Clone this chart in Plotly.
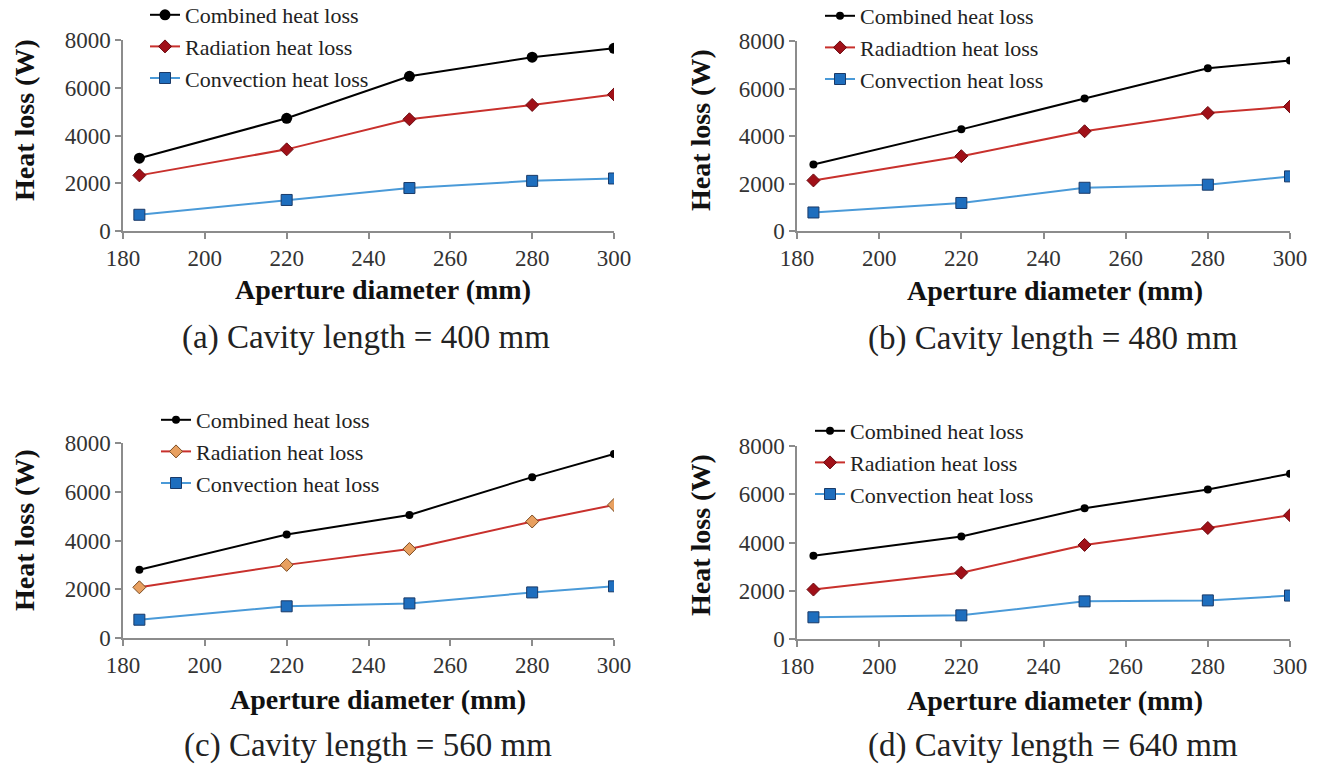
import plotly.graph_objects as go

diameters = [184, 220, 250, 280, 300]

combined_a = [3050, 4720, 6480, 7280, 7650]
radiation_a = [2330, 3420, 4680, 5280, 5720]
convection_a = [680, 1300, 1800, 2100, 2200]

combined_b = [2800, 4280, 5580, 6850, 7180]
radiation_b = [2130, 3150, 4200, 4970, 5240]
convection_b = [780, 1180, 1820, 1950, 2300]

combined_c = [2800, 4250, 5050, 6600, 7550]
radiation_c = [2080, 3000, 3650, 4780, 5460]
convection_c = [750, 1300, 1420, 1870, 2120]

combined_d = [3450, 4250, 5420, 6200, 6850]
radiation_d = [2050, 2750, 3900, 4600, 5130]
convection_d = [900, 980, 1560, 1600, 1800]

captions = ["(a) Cavity length = 400 mm", "(b) Cavity length = 480 mm",
            "(c) Cavity length = 560 mm", "(d) Cavity length = 640 mm"]
rad_names = ["Radiation heat loss", "Radiadtion heat loss",
             "Radiation heat loss", "Radiation heat loss"]

W, H = 1320, 765
FONT = "Liberation Serif"

# panel pixel boxes: (x0, x1, ytop, ybottom)
boxes = [(123, 614, 40, 231), (797, 1290, 41, 231),
         (123, 614, 443, 638), (797, 1290, 446, 639)]
legend_pos = [(145, -6), (820, -5), (156, 399), (810, 410)]
xtitle_pos = [(383, 289), (1055, 290), (378, 699), (1055, 700)]
ytitle_pos = [(24, 120), (700, 130), (24, 530), (700, 535)]
caption_pos = [(366, 337), (1053, 338), (368, 745), (1053, 745)]

data = [(combined_a, radiation_a, convection_a),
        (combined_b, radiation_b, convection_b),
        (combined_c, radiation_c, convection_c),
        (combined_d, radiation_d, convection_d)]

fig = go.Figure()
annotations = []
layout = {}
for i, (comb, rad, conv) in enumerate(data):
    n = "" if i == 0 else str(i + 1)
    xa, ya = "x" + n, "y" + n
    lg = "legend" + n
    csize = 11 if i == 0 else 8
    rad_fill = "#E8A060" if i == 2 else "#A01018"
    rad_line_m = "#7A4A20" if i == 2 else "#6A0A10"
    fig.add_trace(go.Scatter(x=diameters, y=comb, name="Combined heat loss",
                             mode="lines+markers", xaxis=xa, yaxis=ya, legend=lg,
                             line=dict(color="#000000", width=2),
                             marker=dict(symbol="circle", size=csize, color="#000000")))
    fig.add_trace(go.Scatter(x=diameters, y=rad, name=rad_names[i],
                             mode="lines+markers", xaxis=xa, yaxis=ya, legend=lg,
                             line=dict(color="#C8302C", width=2),
                             marker=dict(symbol="diamond", size=10, color=rad_fill,
                                         line=dict(color=rad_line_m, width=1))))
    fig.add_trace(go.Scatter(x=diameters, y=conv, name="Convection heat loss",
                             mode="lines+markers", xaxis=xa, yaxis=ya, legend=lg,
                             line=dict(color="#4A9AD8", width=2),
                             marker=dict(symbol="square", size=11, color="#1E6EBE",
                                         line=dict(color="#1A3A68", width=1))))
    x0, x1, yt, yb = boxes[i]
    axis_common = dict(showline=True, linecolor="#8C8C8C", linewidth=1.5,
                       ticks="outside", ticklen=6, tickcolor="#8C8C8C", tickwidth=1.5,
                       showgrid=False, zeroline=False, automargin=False,
                       tickfont=dict(family=FONT, size=23, color="#333333"))
    layout["xaxis" + n] = dict(domain=[x0 / W, x1 / W], range=[180, 300],
                               tickmode="array", tickvals=[180, 200, 220, 240, 260, 280, 300],
                               anchor=ya, **axis_common)
    layout["yaxis" + n] = dict(domain=[1 - yb / H, 1 - yt / H], range=[0, 8000],
                               tickmode="array", tickvals=[0, 2000, 4000, 6000, 8000],
                               anchor=xa, **axis_common)
    lx, ly = legend_pos[i]
    layout[lg] = dict(x=lx / W, y=1 - ly / H, xanchor="left", yanchor="top",
                      bgcolor="rgba(0,0,0,0)", borderwidth=0, tracegroupgap=0,
                      font=dict(family=FONT, size=22, color="#222222"))
    tx, ty = xtitle_pos[i]
    annotations.append(dict(text="<b>Aperture diameter (mm)</b>", x=tx / W, y=1 - ty / H,
                            xref="paper", yref="paper", showarrow=False,
                            xanchor="center", yanchor="middle",
                            font=dict(family=FONT, size=28, color="#111111")))
    tx, ty = ytitle_pos[i]
    annotations.append(dict(text="<b>Heat loss (W)</b>", x=tx / W, y=1 - ty / H,
                            xref="paper", yref="paper", showarrow=False, textangle=-90,
                            xanchor="center", yanchor="middle",
                            font=dict(family=FONT, size=28, color="#111111")))
    tx, ty = caption_pos[i]
    annotations.append(dict(text=captions[i], x=tx / W, y=1 - ty / H,
                            xref="paper", yref="paper", showarrow=False,
                            xanchor="center", yanchor="middle",
                            font=dict(family=FONT, size=33, color="#222222")))

fig.update_layout(width=W, height=H,
                  margin=dict(l=0, r=0, t=0, b=0, autoexpand=False),
                  paper_bgcolor="white", plot_bgcolor="white",
                  annotations=annotations, **layout)
fig.write_html("out.html")
